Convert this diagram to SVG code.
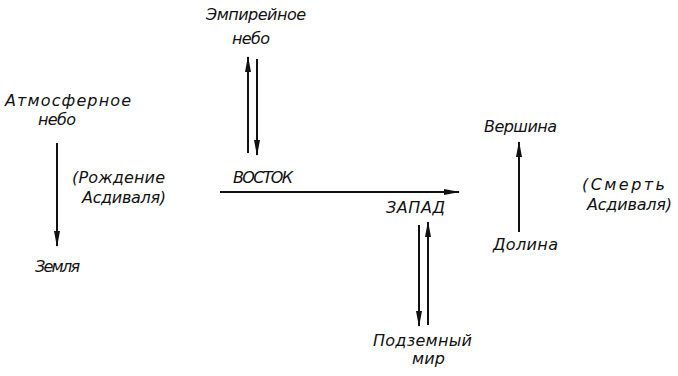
<svg xmlns="http://www.w3.org/2000/svg" width="678" height="376" viewBox="0 0 678 376">
  <style>
    text { font-family: "DejaVu Sans", "Liberation Sans", sans-serif; font-style: italic; font-size: 16px; fill: #111; }
    .ln { stroke: #111; stroke-width: 2; fill: none; }
  </style>
  <defs>
    <marker id="ah" viewBox="0 0 16 6" refX="15" refY="3" markerWidth="16" markerHeight="6" markerUnits="userSpaceOnUse" orient="auto">
      <path d="M0,0 L16,3 L0,6 Z" fill="#111"/>
    </marker>
  </defs>
  <rect width="678" height="376" fill="#fff"/>

  <g id="empyrean">
    <text x="206" y="20" textLength="100" lengthAdjust="spacing">Эмпирейное</text>
    <text x="232" y="44" textLength="38" lengthAdjust="spacing">небо</text>
  </g>
  <g id="atmos">
    <text x="5" y="106" textLength="126" lengthAdjust="spacing">Атмосферное</text>
    <text x="38" y="125" textLength="38" lengthAdjust="spacing">небо</text>
  </g>
  <g id="earth">
    <text x="35" y="272" textLength="45" lengthAdjust="spacing">Земля</text>
  </g>
  <g id="birth">
    <text x="72" y="183" textLength="93" lengthAdjust="spacing">(Рождение</text>
    <text x="82" y="203" textLength="84" lengthAdjust="spacing">Асдиваля)</text>
  </g>
  <g id="east">
    <text x="233" y="183" textLength="60" lengthAdjust="spacing">ВОСТОК</text>
  </g>
  <g id="west">
    <text x="386" y="213" textLength="59" lengthAdjust="spacing">ЗАПАД</text>
  </g>
  <g id="underworld">
    <text x="373" y="346" textLength="99" lengthAdjust="spacing">Подземный</text>
    <text x="412" y="364" textLength="33" lengthAdjust="spacing">мир</text>
  </g>
  <g id="summit">
    <text x="484" y="132" textLength="73" lengthAdjust="spacing">Вершина</text>
  </g>
  <g id="valley">
    <text x="493" y="250" textLength="65" lengthAdjust="spacing">Долина</text>
  </g>
  <g id="death">
    <text x="582" y="190" textLength="83" lengthAdjust="spacing">(Смерть</text>
    <text x="587" y="210" textLength="85" lengthAdjust="spacing">Асдиваля)</text>
  </g>

  <g id="connectors">
    <line class="ln" x1="248" y1="153" x2="248" y2="57" marker-end="url(#ah)"/>
    <line class="ln" x1="257" y1="59" x2="257" y2="155" marker-end="url(#ah)"/>
    <line class="ln" x1="57" y1="143" x2="57" y2="246" marker-end="url(#ah)"/>
    <line class="ln" x1="220" y1="192" x2="459" y2="192" marker-end="url(#ah)"/>
    <line class="ln" x1="419" y1="225" x2="419" y2="326" marker-end="url(#ah)"/>
    <line class="ln" x1="428" y1="325" x2="428" y2="222" marker-end="url(#ah)"/>
    <line class="ln" x1="519" y1="232" x2="519" y2="142" marker-end="url(#ah)"/>
  </g>
</svg>
